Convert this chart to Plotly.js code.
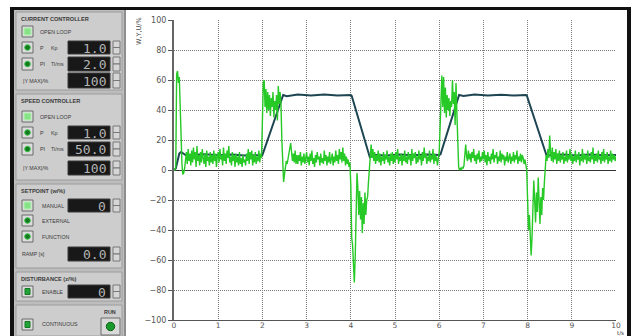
<!DOCTYPE html>
<html><head><meta charset="utf-8">
<script src="https://cdn.plot.ly/plotly-3.0.1.min.js"></script>
<style>html,body{margin:0;padding:0;background:#fff}#c{width:632px;height:336px}</style>
</head><body><div id="c"></div>
<script>
// ---- data ----
const U_T0 = 0;      // controller output u(t): first sample time (s)
const U_DT = 0.02;   // sample step (s)
const uVals = [
 0,0,2,64,66,58,62,40,20,4,
 -3,-2,1,6,12,4,14,6,11,3,
 13,5,15,7,12,2,16,6,10,3,
 12,5,14,8,4,11,2,13,6,9,
 3,12,5,10,4,13,6,11,2,9,
 12,5,14,7,10,3,15,6,11,4,
 13,8,16,5,9,3,12,6,10,2,
 11,5,9,3,12,4,8,2,10,5,
 7,3,11,6,14,4,12,7,13,3,
 10,5,12,4,9,6,13,5,11,8,
 30,58,60,42,54,38,52,40,50,36,
 48,42,52,35,46,40,50,33,56,44,
 52,44,20,-4,-8,-3,3,6,4,8,
 10,14,18,12,6,11,5,13,4,10,
 4,10,6,12,3,9,5,11,4,8,
 12,5,9,3,11,6,13,4,8,2,
 10,5,12,7,9,3,11,5,8,4,
 13,6,10,3,9,5,12,4,7,11,
 3,9,5,13,6,10,4,14,7,12,
 5,15,6,11,3,9,4,7,2,5,
 -10,-45,-50,-62,-75,-58,-20,-2,-12,-30,
 -14,-33,-18,-42,-22,-36,-15,-30,-20,-18,
 -8,0,12,17,8,14,6,12,4,10,
 6,13,5,11,3,9,6,12,4,10,
 7,13,5,9,3,11,6,12,4,10,
 5,12,7,14,4,9,6,11,3,10,
 6,13,5,9,4,12,7,10,3,14,
 6,11,8,12,4,9,5,13,7,10,
 3,12,6,15,8,11,4,9,6,13,
 5,10,7,14,4,11,6,9,3,8,
 12,28,58,63,42,62,38,55,35,50,
 40,48,36,46,42,60,44,52,30,58,
 38,20,2,0,1,0,2,1,3,10,
 17,9,6,13,7,11,5,12,8,14,
 6,10,4,11,7,13,5,9,6,12,
 7,13,5,10,3,12,6,9,4,11,
 7,14,5,10,8,12,4,9,6,13,
 5,11,7,10,3,9,6,12,5,8,
 11,4,9,6,12,5,10,7,13,4,
 9,6,11,5,10,8,4,7,3,0,
 -20,-40,-30,-50,-57,-45,-25,-7,-20,-35,
 -15,-28,-5,-22,-36,-18,-30,-12,-20,-8,
 2,10,6,14,8,23,12,6,15,5,
 12,7,14,4,11,6,13,5,10,7,
 12,4,9,6,13,5,10,7,14,6,
 11,4,9,6,13,5,10,7,12,3,
 9,6,14,5,11,7,10,4,13,6,
 9,5,12,7,15,4,10,6,11,5,
 13,7,9,4,12,6,14,5,10,7,
 12,4,9,6,13,5,11,7,10,6,
 9
];
// setpoint / actual value w(t), y(t)
const wT = [0,0.04,0.08,0.12,0.16,0.2,0.26,0.4,0.7,1.0,1.3,1.6,1.9,2.0,2.47,2.55,2.8,3.1,3.4,3.7,4.0,4.02,4.43,4.55,4.8,5.1,5.4,5.7,6.0,6.03,6.45,6.55,6.8,7.1,7.4,7.7,7.96,7.98,8.43,8.55,8.8,9.1,9.4,9.7,10];
const wV = [0,1,6,11,12,11,10,10,10.5,9.8,10.3,9.7,10.2,10,50,49.2,50.3,49.6,50.4,49.7,50,49.5,8.5,10,9.6,10.3,9.8,10.4,10,10.5,50,49.4,50.3,49.7,50.2,49.6,50,49.8,9.5,10,10.4,9.7,10.3,9.8,10];
const xTicks = [0,1,2,3,4,5,6,7,8,9,10];
const yTicks = [-100,-80,-60,-40,-20,0,20,40,60,80,100];
const yTitle = "W,Y,U/%";
const xTitle = "t/s";

// panel content
const sections = [
  {title:"CURRENT CONTROLLER", top:12, bottom:90},
  {title:"SPEED CONTROLLER", top:94, bottom:180},
  {title:"SETPOINT (w/%)", top:184, bottom:268},
  {title:"DISTURBANCE (z/%)", top:272, bottom:301},
  {title:"", top:305, bottom:340}
];
const controls = [
  {kind:"lamp", label:"OPEN LOOP", lx:38, top:26, bot:37},
  {kind:"dot", label:"P", sub:"Kp", lx:38, top:42, bot:53, val:"1.0"},
  {kind:"dot", label:"PI", sub:"Ti/ms", lx:38, top:58, bot:70, val:"2.0"},
  {kind:"none", label:"|Y MAX|/%", lx:21, top:74, bot:87, val:"100"},
  {kind:"lamp", label:"OPEN LOOP", lx:38, top:111, bot:122},
  {kind:"dot", label:"P", sub:"Kp", lx:38, top:127, bot:138, val:"1.0"},
  {kind:"dot", label:"PI", sub:"Ti/ms", lx:38, top:143, bot:155, val:"50.0"},
  {kind:"none", label:"|Y MAX|/%", lx:21, top:162, bot:174, val:"100"},
  {kind:"lamp", label:"MANUAL", lx:40, top:200, bot:211, val:"0"},
  {kind:"dot", label:"EXTERNAL", lx:40, top:215, bot:226},
  {kind:"dot", label:"FUNCTION", lx:40, top:231, bot:242},
  {kind:"none", label:"RAMP [s]", lx:20, top:248, bot:260, val:"0.0"},
  {kind:"sq", label:"ENABLE", lx:40, top:286, bot:297, val:"0"},
  {kind:"sq", label:"CONTINUOUS", lx:40, top:319, bot:330}
];

// ---- geometry helpers (pixel -> paper) ----
const ML=174, MT=20, PW=442, PH=300;
const X = p => (p-ML)/PW;
const Y = p => (MT+PH-p)/PH;
const shapes = [], ann = [];
function rect(x0,y0,x1,y1,fill,lc,lw){
  shapes.push({type:'rect',xref:'paper',yref:'paper',x0:X(x0),x1:X(x1),y0:Y(y1),y1:Y(y0),
    fillcolor:fill,line:{color:lc||fill,width:lw===undefined?0:lw},layer:'above'});
}
function circ(cx,cy,r,fill,lc,lw){
  shapes.push({type:'circle',xref:'paper',yref:'paper',x0:X(cx-r),x1:X(cx+r),y0:Y(cy+r),y1:Y(cy-r),
    fillcolor:fill,line:{color:lc||fill,width:lw||0},layer:'above'});
}
function txt(x,y,s,size,color,anchor,family,angle){
  ann.push({xref:'paper',yref:'paper',x:X(x),y:Y(y),text:s,showarrow:false,
    xanchor:anchor||'left',yanchor:'middle',textangle:angle||0,
    font:{size:size,color:color||'#333',family:family||'Liberation Sans, Arial, sans-serif'}});
}

// frame
rect(10,7,631,10,'#111');
rect(10,7,14,336,'#111');
rect(627,7,631,336,'#111');
// panel
rect(14,10,125,336,'#bdbdbd');
rect(124,10,126,336,'#8e8e8e');
sections.forEach(s=>{
  rect(16,s.top,122,Math.min(s.bottom,336),'#cdcdcd','#9c9c9c',1);
  if(s.title) txt(19,s.top+7,'<b>'+s.title+'</b>',5.6,'#3a3a3a');
});
txt(110,312,'<b>RUN</b>',5.4,'#3a3a3a','center');
rect(101,318,120,335,'#d9d9d9','#6d6d6d',1);
circ(110.5,326.5,4.2,'#1a9a2a','#0d5f18',1);

controls.forEach(c=>{
  const cy=(c.top+c.bot)/2;
  if(c.kind!=='none'){
    rect(22,c.top,33,c.bot,'#dcdcdc','#6a6a6a',1);
    if(c.kind==='lamp'){ rect(24,c.top+2,31,c.bot-2,'#86e486','#b8f0b8',1); }
    if(c.kind==='dot'){ circ(27.5,cy,2.8,'#137a1f','#3cc24a',1); }
    if(c.kind==='sq'){ rect(25,cy-3,30,cy+3,'#22a33a','#137a1f',1); }
  }
  txt(c.lx,cy,c.label,5.3,'#3a3a3a');
  if(c.sub) txt(49,cy,c.sub,5.3,'#3a3a3a');
  if(c.val!==undefined){
    rect(68,c.top-1,110,c.bot+1,'#181818','#3a3a3a',1);
    txt(108,cy+0.5,c.val,13,'#b4b4b4','right','DejaVu Sans Mono, monospace');
    rect(113,c.top-1,120,cy,'#d6d6d6','#777',1);
    rect(113,cy,120,c.bot+1,'#d6d6d6','#777',1);
  }
});

// axis titles
txt(139,31,yTitle,6.5,'#444','center','DejaVu Sans, sans-serif',-90);
txt(620,333.3,xTitle,5.6,'#444','center','DejaVu Sans, sans-serif');

const traces = [
  {type:'scatter',mode:'lines',x:wT,y:wV,name:'W,Y',
   line:{color:'#1d4652',width:2},hoverinfo:'skip'},
  {type:'scatter',mode:'lines',x0:U_T0,dx:U_DT,y:uVals,name:'U',
   line:{color:'#27c927',width:1.4},hoverinfo:'skip'}
];
const layout = {
  width:632,height:336,margin:{l:ML,r:632-ML-PW,t:MT,b:336-MT-PH,pad:0},
  paper_bgcolor:'#ffffff',plot_bgcolor:'#ffffff',showlegend:false,
  xaxis:{range:[0,10],tickvals:xTicks,showgrid:true,gridcolor:'#7a7a7a',griddash:'1px,1px',gridwidth:1,
    showline:true,linecolor:'#555',linewidth:1,ticks:'',ticklabelstandoff:-2,
    zeroline:false,tickfont:{size:7.5,color:'#555',family:'DejaVu Sans, sans-serif'},fixedrange:true},
  yaxis:{range:[-100,100],tickvals:yTicks,showgrid:true,gridcolor:'#7a7a7a',griddash:'1px,1px',gridwidth:1,
    showline:true,linecolor:'#666',linewidth:2,ticks:'outside',ticklen:4,tickcolor:'#555',
    zeroline:true,zerolinecolor:'#333',zerolinewidth:1,
    tickfont:{size:8,color:'#555',family:'DejaVu Sans, sans-serif'},fixedrange:true},
  shapes:shapes,annotations:ann
};
Plotly.newPlot('c',traces,layout,{staticPlot:true,displayModeBar:false});
</script></body></html>
